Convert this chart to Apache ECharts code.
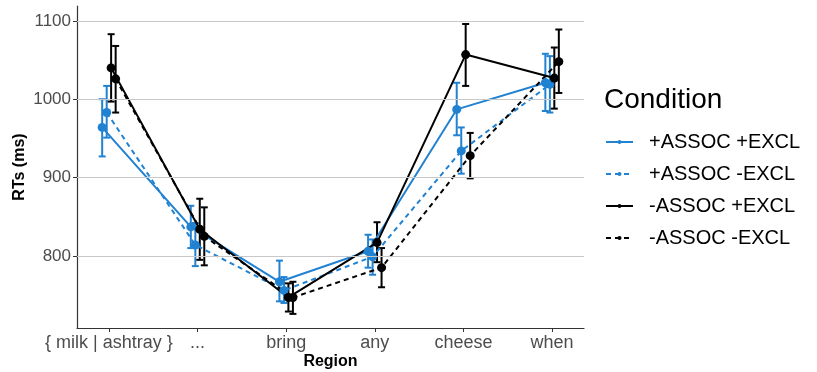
<!DOCTYPE html>
<html>
<head>
<meta charset="utf-8">
<script src="https://cdn.jsdelivr.net/npm/echarts@6/dist/echarts.min.js"></script>
<style>html,body{margin:0;padding:0;background:#fff;}#c{width:817px;height:372px;}</style>
</head>
<body>
<div id="c"></div>
<script>
const categories = ['{ milk | ashtray }', '...', 'bring', 'any', 'cheese', 'when'];
const conditions = ['+ASSOC +EXCL', '+ASSOC -EXCL', '-ASSOC +EXCL', '-ASSOC -EXCL'];
const yTicks = [800, 900, 1000, 1100];

const meanPP = [964, 837, 767, 806, 987, 1021];
const lowPP  = [927, 810, 742, 785, 954, 985];
const highPP = [1000, 864, 794, 827, 1021, 1058];

const meanPM = [983, 814, 756, 799, 934, 1019];
const lowPM  = [951, 787, 740, 776, 905, 983];
const highPM = [1017, 842, 773, 821, 964, 1055];

const meanMP = [1040, 834, 747, 817, 1057, 1027];
const lowMP  = [997, 795, 729, 792, 1017, 988];
const highMP = [1083, 873, 765, 843, 1096, 1066];

const meanMM = [1026, 825, 747, 785, 928, 1048];
const lowMM  = [983, 788, 726, 760, 899, 1008];
const highMM = [1068, 862, 767, 810, 957, 1089];

const BLUE = '#2182d2';
const BLACK = '#000000';
const FONT = 'Liberation Sans, Arial, sans-serif';

const groups = [
  {name: conditions[0], mean: meanPP, low: lowPP, high: highPP, color: BLUE, dash: 'solid'},
  {name: conditions[1], mean: meanPM, low: lowPM, high: highPM, color: BLUE, dash: [5, 4]},
  {name: conditions[2], mean: meanMP, low: lowMP, high: highMP, color: BLACK, dash: 'solid'},
  {name: conditions[3], mean: meanMM, low: lowMM, high: highMM, color: BLACK, dash: [5, 4]}
];
const dodge = [-0.076, -0.025, 0.025, 0.076];

const series = [];
series.push({
  type: 'line', data: [], silent: true, z: 0,
  markLine: {
    silent: true, symbol: 'none', label: {show: false},
    lineStyle: {color: '#c8c8c8', type: 'solid', width: 1},
    emphasis: {disabled: true},
    data: yTicks.map(v => ({yAxis: v}))
  }
});
groups.forEach((g, k) => {
  const xs = categories.map((c, i) => i + 1 + dodge[k]);
  series.push({
    type: 'custom',
    name: g.name + ' err',
    z: 2,
    silent: true,
    data: xs.map((x, i) => [x, g.low[i], g.high[i]]),
    renderItem: function (params, api) {
      const x = api.value(0), lo = api.value(1), hi = api.value(2);
      const p1 = api.coord([x, lo]), p2 = api.coord([x, hi]);
      const w = 3.5;
      const st = {stroke: g.color, lineWidth: 2};
      return {type: 'group', children: [
        {type: 'line', shape: {x1: p1[0], y1: p1[1], x2: p2[0], y2: p2[1]}, style: st},
        {type: 'line', shape: {x1: p1[0] - w, y1: p1[1], x2: p1[0] + w, y2: p1[1]}, style: st},
        {type: 'line', shape: {x1: p2[0] - w, y1: p2[1], x2: p2[0] + w, y2: p2[1]}, style: st}
      ]};
    }
  });
  series.push({
    type: 'line',
    name: g.name,
    z: 3,
    data: xs.map((x, i) => [x, g.mean[i]]),
    symbol: 'circle',
    symbolSize: 9,
    showAllSymbol: true,
    lineStyle: {color: g.color, width: 2, type: g.dash},
    itemStyle: {color: g.color},
    emphasis: {disabled: true}
  });
});

const chart = echarts.init(document.getElementById('c'), null, {renderer: 'canvas'});
chart.setOption({
  animation: false,
  backgroundColor: '#ffffff',
  textStyle: {fontFamily: FONT},
  title: {
    text: 'Condition', left: 604, top: 86, padding: 0,
    textStyle: {fontSize: 28, fontWeight: 'normal', color: '#000', fontFamily: FONT}
  },
  legend: {
    data: conditions,
    orient: 'vertical',
    left: 605, top: 132, padding: 0,
    itemWidth: 27, itemHeight: 5, itemGap: 12,
    textStyle: {fontSize: 20, color: '#000', fontFamily: FONT, padding: [0, 0, 0, 11]}
  },
  grid: {left: 77, right: 233, top: 6, bottom: 44, containLabel: false, outerBoundsMode: 'none'},
  xAxis: {
    type: 'value', min: 0.64, max: 6.36,
    name: 'Region', nameLocation: 'middle', nameGap: 26, nameMoveOverlap: false,
    nameTextStyle: {fontSize: 16, fontWeight: 'bold', color: '#000', fontFamily: FONT},
    axisLine: {show: true, lineStyle: {color: '#333', width: 1.2}},
    axisTick: {show: true, length: 4, lineStyle: {color: '#333'}, customValues: [1, 2, 3, 4, 5, 6]},
    axisLabel: {
      customValues: [1, 2, 3, 4, 5, 6],
      formatter: v => categories[Math.round(v) - 1],
      fontSize: 18, color: '#4d4d4d', margin: 6, fontFamily: FONT
    },
    splitLine: {show: false}
  },
  yAxis: {
    type: 'value', min: 708, max: 1119,
    name: 'RTs (ms)', nameLocation: 'middle', nameGap: 49, nameRotate: 90, nameMoveOverlap: false,
    nameTextStyle: {fontSize: 16, fontWeight: 'bold', color: '#000', fontFamily: FONT},
    axisLine: {show: true, lineStyle: {color: '#333', width: 1.2}},
    axisTick: {show: true, length: 4, lineStyle: {color: '#333'}, customValues: yTicks},
    axisLabel: {customValues: yTicks, formatter: v => String(v), fontSize: 17, color: '#4d4d4d', margin: 6, fontFamily: FONT},
    splitLine: {show: false}
  },
  series: series
});
</script>
</body>
</html>
